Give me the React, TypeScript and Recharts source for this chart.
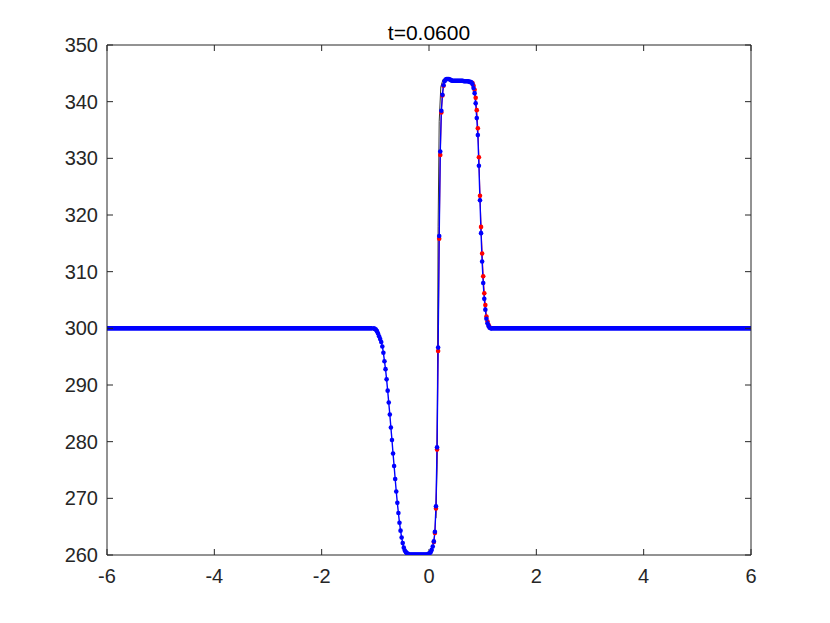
import { ComposedChart, Line, XAxis, YAxis } from 'recharts';

type Pt = [number, number];

const xTicks = [-6, -4, -2, 0, 2, 4, 6];
const yTicks = [260, 270, 280, 290, 300, 310, 320, 330, 340, 350];
const title = 't=0.0600';

// outer flat parts, drawn as a thick stroke (merged dots in the original)
const flatLeft: Pt[] = [[-6, 300], [-1.05, 300]];
const flatRight: Pt[] = [[1.15, 300], [6, 300]];

// blue numerical solution
const descentLeft: Pt[] = [
  [-1.03, 300.0], [-1.01, 299.9], [-0.99, 299.8], [-0.97, 299.5], [-0.95, 299.1],
  [-0.93, 298.6], [-0.91, 298.1], [-0.89, 297.6], [-0.87, 296.8], [-0.85, 295.7],
  [-0.83, 294.2], [-0.81, 292.8], [-0.79, 291.0], [-0.77, 289.0], [-0.75, 286.9],
  [-0.73, 284.8], [-0.71, 282.5], [-0.69, 280.3], [-0.67, 277.9], [-0.65, 275.7],
  [-0.63, 273.4], [-0.61, 271.2], [-0.59, 269.2], [-0.57, 267.4], [-0.55, 265.7],
  [-0.53, 264.3], [-0.51, 263.1], [-0.49, 262.1], [-0.47, 261.3], [-0.45, 260.8],
  [-0.43, 260.5], [-0.41, 260.3],
];
const floor: Pt[] = [
  [-0.39, 260.2], [-0.37, 260.1], [-0.35, 260.1], [-0.33, 260.1], [-0.31, 260.1],
  [-0.29, 260.1], [-0.27, 260.1], [-0.25, 260.1], [-0.23, 260.1], [-0.21, 260.1],
  [-0.19, 260.1], [-0.17, 260.1], [-0.15, 260.1], [-0.13, 260.1], [-0.11, 260.1],
  [-0.09, 260.1], [-0.07, 260.1], [-0.05, 260.1], [-0.03, 260.1], [-0.01, 260.2],
];
const riseLeft: Pt[] = [
  [0.01, 260.3], [0.03, 260.5], [0.05, 260.9], [0.07, 261.5], [0.09, 262.4],
  [0.11, 264.1], [0.13, 268.6], [0.15, 279.0], [0.17, 296.6], [0.19, 316.3],
  [0.21, 331.2], [0.23, 338.4], [0.25, 341.2], [0.27, 342.9], [0.29, 343.6],
];
const plateau: Pt[] = [
  [0.31, 343.9], [0.33, 344.0], [0.35, 344.0], [0.37, 344.0], [0.39, 343.9],
  [0.41, 343.8], [0.43, 343.7], [0.45, 343.7], [0.47, 343.7], [0.49, 343.7],
  [0.51, 343.7], [0.53, 343.7], [0.55, 343.7], [0.57, 343.7], [0.59, 343.7],
  [0.61, 343.7], [0.63, 343.7], [0.65, 343.6], [0.67, 343.6], [0.69, 343.6],
  [0.71, 343.6], [0.73, 343.6], [0.75, 343.5], [0.77, 343.5], [0.79, 343.4],
];
const descentRight: Pt[] = [
  [0.81, 343.1], [0.83, 342.4], [0.85, 341.5], [0.87, 339.7], [0.89, 337.1],
  [0.91, 334.1], [0.93, 328.7], [0.95, 322.6], [0.97, 316.8], [0.99, 311.8],
  [1.01, 308.0], [1.03, 305.2], [1.05, 303.3], [1.07, 301.7], [1.09, 300.9],
  [1.11, 300.4], [1.13, 300.1], [1.15, 300.0],
];

// red reference solution (only where it differs visibly)
const redRise: Pt[] = [
  [0.09, 262.3], [0.11, 263.9], [0.13, 268.2], [0.15, 278.6], [0.17, 296.0],
  [0.19, 315.8], [0.21, 330.6], [0.23, 338.1], [0.25, 341.1], [0.27, 342.8],
];
const redDescent: Pt[] = [
  [0.81, 343.3], [0.83, 342.8], [0.85, 342.1], [0.87, 340.7], [0.89, 338.5],
  [0.91, 335.3], [0.93, 330.2], [0.95, 323.4], [0.97, 317.9], [0.99, 313.2],
  [1.01, 309.2], [1.03, 306.2], [1.05, 304.1], [1.07, 302.1], [1.09, 301.2],
  [1.11, 300.6], [1.13, 300.2],
];

// thin black exact profile, only peeking out at the top of the rise
const exact: Pt[] = [
  [0.13, 266.5], [0.15, 276], [0.17, 318], [0.19, 336.5], [0.22, 342.6],
  [0.26, 343.9], [0.32, 344.1],
];

const toRows = (pts: Pt[]) => pts.map(([x, y]) => ({ x, y }));

const blueRows = toRows([...descentLeft, ...floor, ...riseLeft, ...plateau, ...descentRight]);

const FONT = '"Liberation Sans", Arial, Helvetica, sans-serif';
const AXIS = '#262626';
const tickStyle = { fill: AXIS, fontSize: 20, fontFamily: FONT };
const redDot = { r: 2.3, fill: '#ff0000', stroke: 'none', strokeWidth: 0 };
const blueDot = { r: 2.3, fill: '#0000ff', stroke: 'none', strokeWidth: 0 };

export default function App() {
  return (
    <div style={{ position: 'relative', width: 814, height: 600 }}>
      <div
        style={{
          position: 'absolute',
          left: 99,
          width: 644,
          top: 13,
          textAlign: 'center',
          fontFamily: FONT,
          fontSize: 21,
          color: '#000',
          lineHeight: '24px',
        }}
      >
        {title}
      </div>
      <ComposedChart width={814} height={600} margin={{ top: 27, right: 61, bottom: 23, left: 39 }}>
        <XAxis
          dataKey="x"
          type="number"
          domain={[-6, 6]}
          ticks={xTicks}
          interval={0}
          allowDataOverflow
          height={30}
          tickSize={-6}
          tickMargin={20}
          tick={tickStyle}
          axisLine={{ stroke: AXIS }}
          tickLine={{ stroke: AXIS }}
        />
        <XAxis
          xAxisId="top"
          orientation="top"
          dataKey="x"
          type="number"
          domain={[-6, 6]}
          ticks={xTicks}
          interval={0}
          allowDataOverflow
          height={10}
          tickSize={-6}
          tickFormatter={() => ''}
          axisLine={{ stroke: AXIS }}
          tickLine={{ stroke: AXIS }}
        />
        <YAxis
          type="number"
          domain={[260, 350]}
          ticks={yTicks}
          interval={0}
          allowDataOverflow
          width={60}
          tickSize={-6}
          tickMargin={15}
          tick={tickStyle}
          axisLine={{ stroke: AXIS }}
          tickLine={{ stroke: AXIS }}
        />
        <YAxis
          yAxisId="right"
          orientation="right"
          type="number"
          domain={[260, 350]}
          ticks={yTicks}
          interval={0}
          allowDataOverflow
          width={10}
          tickSize={-6}
          tickFormatter={() => ''}
          axisLine={{ stroke: AXIS }}
          tickLine={{ stroke: AXIS }}
        />
        <Line
          data={toRows(exact)}
          dataKey="y"
          type="linear"
          stroke="#000000"
          strokeWidth={0.8}
          dot={false}
          activeDot={false}
          isAnimationActive={false}
        />
        <Line
          data={toRows(redRise)}
          dataKey="y"
          type="linear"
          stroke="#ff0000"
          strokeWidth={1}
          dot={redDot}
          activeDot={false}
          isAnimationActive={false}
        />
        <Line
          data={toRows(redDescent)}
          dataKey="y"
          type="linear"
          stroke="#ff0000"
          strokeWidth={1}
          dot={redDot}
          activeDot={false}
          isAnimationActive={false}
        />
        <Line
          data={toRows(flatLeft)}
          dataKey="y"
          type="linear"
          stroke="#0000ff"
          strokeWidth={4.6}
          dot={false}
          activeDot={false}
          isAnimationActive={false}
        />
        <Line
          data={toRows(flatRight)}
          dataKey="y"
          type="linear"
          stroke="#0000ff"
          strokeWidth={4.6}
          dot={false}
          activeDot={false}
          isAnimationActive={false}
        />
        <Line
          data={blueRows}
          dataKey="y"
          type="linear"
          stroke="#0000ff"
          strokeWidth={1.4}
          dot={blueDot}
          activeDot={false}
          isAnimationActive={false}
        />
      </ComposedChart>
    </div>
  );
}
